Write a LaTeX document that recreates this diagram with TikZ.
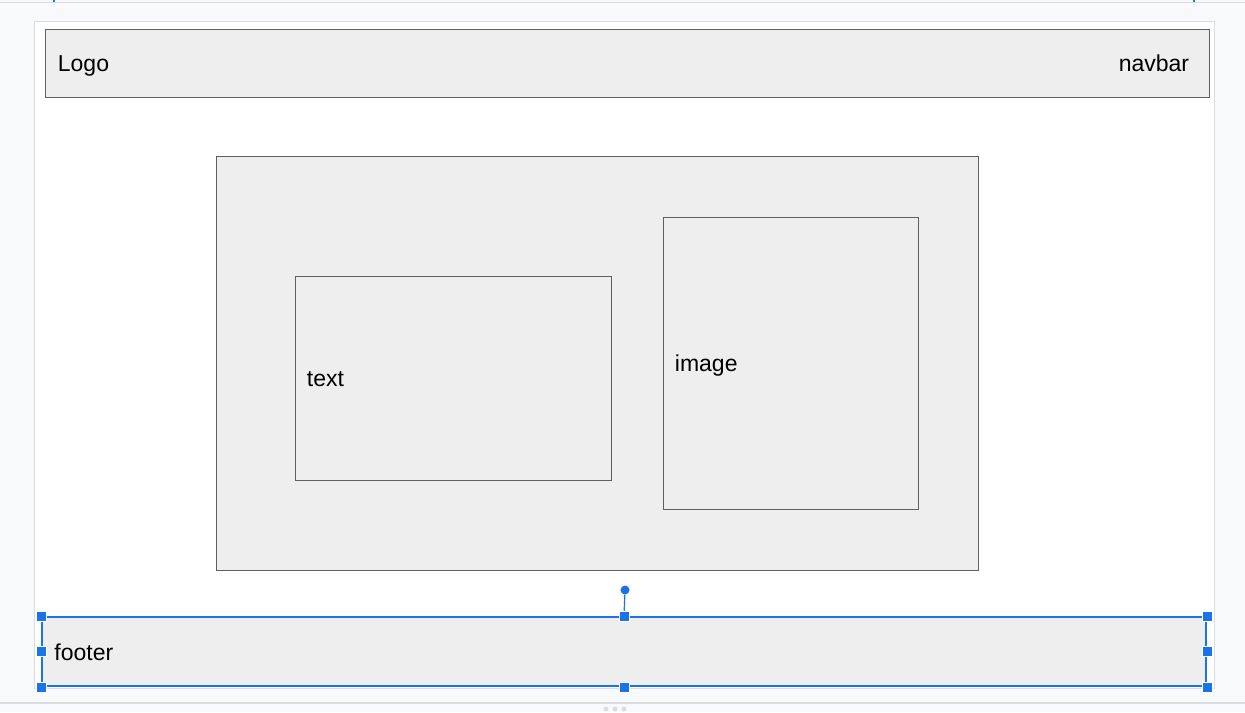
\documentclass[tikz,border=0pt]{standalone}
\usepackage{fontspec}
\setmainfont{Liberation Sans}
\usepackage{xcolor}
\usetikzlibrary{positioning}
\definecolor{canvasbg}{HTML}{F8F9FA}
\definecolor{rulegray}{HTML}{DADCE0}
\definecolor{boxfill}{HTML}{EEEEEE}
\definecolor{boxline}{HTML}{5F5F5F}
\definecolor{selblue}{HTML}{1A73E8}
\begin{document}
\begin{tikzpicture}[x=0.5pt,y=-0.5pt,
                panel/.style={
                  rectangle, draw=boxline, fill=boxfill, line width=0.5pt, inner sep=0pt
                },
                label/.style={inner sep=0pt, text height=9.5pt, text depth=0.6pt,
                  font=\fontsize{11.5}{13.5}\selectfont},
                handle/.style={
                  rectangle, fill=selblue, draw=white, line width=0.3pt,
                  minimum size=4.8pt, inner sep=0pt
                }
                ]
                % canvas
                \fill [canvasbg] (0,0) rectangle (1245,712);
                \useasboundingbox (0,0) rectangle (1245,712);
                \draw [rulegray, line width=0.6pt] (0,2.5) -- (1245,2.5);
                \draw [rulegray, line width=0.6pt] (0,703) -- (1245,703);
                \draw [selblue, line width=0.6pt] (54,0) -- (54,2);
                \draw [selblue, line width=0.6pt] (1194,0) -- (1194,2);
                \foreach \dx in {606,615,624}
                  \fill [rulegray] (\dx,709) circle (1.2pt);
                % page
                \node [rectangle, fill=white, draw=rulegray, line width=0.5pt,
                       minimum width=590pt, minimum height=333.5pt, inner sep=0pt] (page) at (624,354.5) {};
                % boxes
                \node [panel, minimum width=582pt, minimum height=34pt] (navbar) at (627,63) {};
                \node [panel, minimum width=381pt, minimum height=207pt] (main) at (597,363) {};
                \node [panel, minimum width=158pt, minimum height=102pt] (text) at (453,378) {};
                \node [panel, minimum width=127.5pt, minimum height=146pt] (image) at (790.5,363) {};
                \node [panel, draw=selblue, line width=1pt, minimum width=582pt, minimum height=34.5pt] (footer) at (624,651.5) {};
                % labels
                \node [label, right=6.5pt of navbar.west] (logolbl) {Logo};
                \node [label, left=10pt of navbar.east] (navlbl) {navbar};
                \node [label, right=6pt of text.west] (textlbl) {text};
                \node [label, right=6pt of image.west] (imagelbl) {image};
                \node [label, right=6.5pt of footer.west] (footlbl) {footer};
                % selection handles
                \node [circle, fill=selblue, inner sep=0pt, minimum size=4.5pt] (rot) at (625,590) {};
                \draw [selblue, line width=0.6pt] (rot) -- (footer.north);
                \foreach \a in {north west,north,north east,west,east,south west,south,south east}
                  \node [handle] at (footer.\a) {};
            \end{tikzpicture}
\end{document}
